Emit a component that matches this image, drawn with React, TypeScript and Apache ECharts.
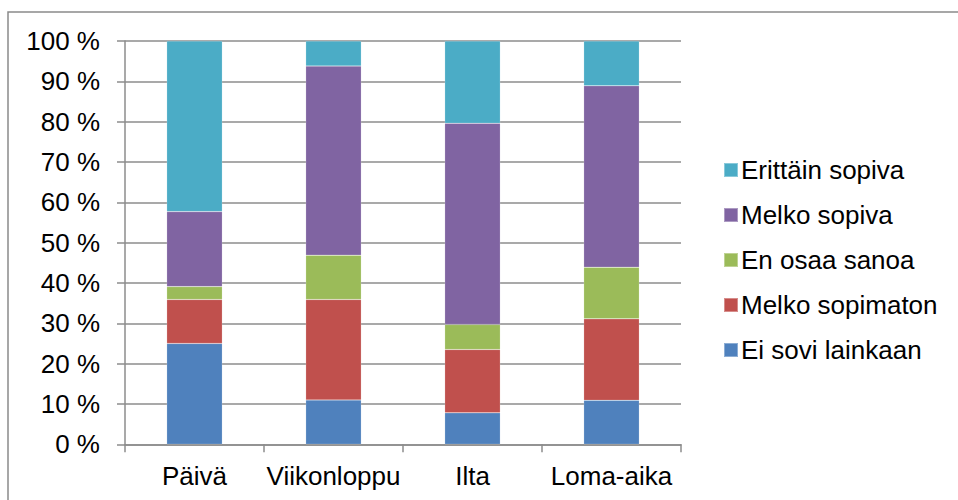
import React, { useEffect, useRef } from "react";
import * as echarts from "echarts";

const categories = ["Päivä", "Viikonloppu", "Ilta", "Loma-aika"];
const seriesNames = ["Ei sovi lainkaan", "Melko sopimaton", "En osaa sanoa", "Melko sopiva", "Erittäin sopiva"];
const eiSovi = [25.0, 11.0, 7.8, 10.9];
const melkoSopimaton = [10.9, 24.9, 15.7, 20.2];
const enOsaa = [3.2, 11.0, 6.2, 12.8];
const melkoSopiva = [18.6, 46.9, 49.9, 45.0];
const erittainSopiva = [42.3, 6.2, 20.4, 11.1];
const seriesValues = [eiSovi, melkoSopimaton, enOsaa, melkoSopiva, erittainSopiva];
const colors = ["#4F81BD", "#C0504D", "#9BBB59", "#8064A2", "#4BACC6"];

export default function App() {
  const ref = useRef<HTMLDivElement>(null);
  useEffect(() => {
    document.body.style.margin = "0";
    if (!ref.current) return;
    const chart = echarts.init(ref.current, null, { renderer: "svg" });
    const font = "'Liberation Sans', Arial, sans-serif";
    chart.setOption({
      animation: false,
      backgroundColor: "#ffffff",
      grid: { left: 125, right: 277, top: 41, bottom: 55.7, containLabel: false },
      graphic: [
        {
          type: "rect",
          shape: { x: 8, y: 12, width: 1000, height: 600 },
          style: { fill: "none", stroke: "#8a8a8a", lineWidth: 1.5 },
          silent: true,
        },
      ],
      legend: {
        orient: "vertical",
        left: 723,
        top: 157,
        padding: 0,
        itemWidth: 14,
        itemHeight: 14,
        itemGap: 19,
        icon: "rect",
        data: [...seriesNames].reverse(),
        textStyle: { fontSize: 26, lineHeight: 26, color: "#000", fontFamily: font, padding: [0, 0, 0, -2] },
      },
      xAxis: {
        type: "category",
        data: categories,
        boundaryGap: true,
        axisLine: { show: true, lineStyle: { color: "#8c8c8c", width: 1.5 } },
        axisTick: { show: true, length: 8, alignWithLabel: false, lineStyle: { color: "#8c8c8c", width: 1.5 } },
        axisLabel: { interval: 0, fontSize: 26, color: "#000", fontFamily: font, margin: 19 },
        splitLine: { show: false },
      },
      yAxis: {
        type: "value",
        min: 0,
        max: 100,
        interval: 10,
        axisLine: { show: true, lineStyle: { color: "#8c8c8c", width: 1.5 } },
        axisTick: { show: true, length: 8, lineStyle: { color: "#8c8c8c", width: 1.5 } },
        axisLabel: { formatter: "{value} %", fontSize: 26, color: "#000", fontFamily: font, margin: 25 },
        splitLine: { show: true, lineStyle: { color: "#8c8c8c", width: 1.5 } },
      },
      series: seriesNames.map((name, i) => ({
        name,
        type: "bar",
        stack: "total",
        barWidth: "40%",
        data: seriesValues[i],
        itemStyle: { color: colors[i], borderColor: "rgba(255,255,255,0.35)", borderWidth: 0.5 },
      })),
    });
    return () => chart.dispose();
  }, []);
  return <div ref={ref} style={{ position: "absolute", left: 0, top: 0, width: 958, height: 500 }} />;
}
